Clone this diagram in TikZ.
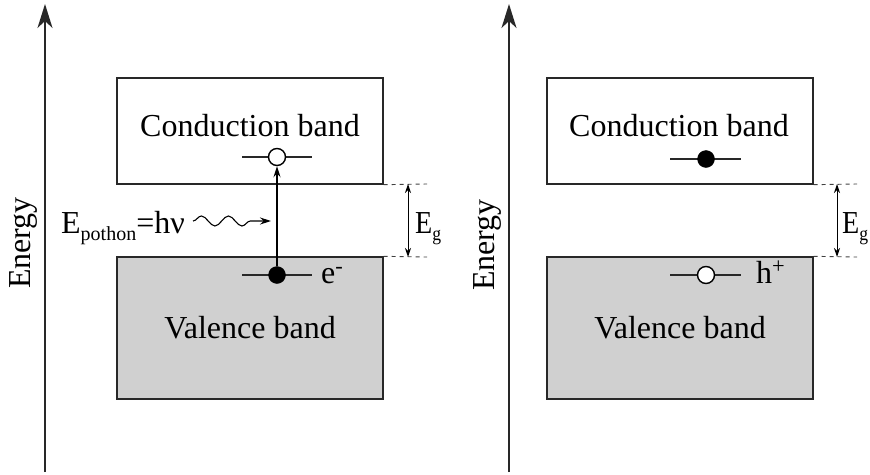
\documentclass[tikz,border=0pt]{standalone}
\usepackage{fontspec}
\setmainfont{Liberation Serif}
\usetikzlibrary{arrows.meta,decorations.pathmorphing}
\definecolor{bandgray}{RGB}{208,208,208}
\definecolor{linec}{RGB}{40,40,40}
\tikzset{
  band/.style={draw=linec, line width=1.4pt, inner sep=0pt, minimum width=266pt},
  cband/.style={band, fill=white, minimum height=106pt},
  vband/.style={band, fill=bandgray, minimum height=142pt},
  lbl/.style={inner sep=0pt, font=\fontsize{32}{38}\selectfont},
  level/.style={draw=linec, line width=1.5pt},
  hole/.style={circle, draw=black, line width=1.4pt, fill=white, inner sep=0pt, minimum size=17pt},
  elec/.style={circle, draw=black, fill=black, inner sep=0pt, minimum size=17pt},
  axis/.style={draw=linec, line width=1.5pt, -{Stealth[length=24pt,width=15pt,inset=7pt]}},
  gaparrow/.style={draw=black, line width=1pt, {Stealth[length=9pt,width=6pt]}-{Stealth[length=9pt,width=6pt]}},
  guide/.style={draw=black!75, line width=0.9pt, dash pattern=on 4pt off 4pt},
  trans/.style={draw=black, line width=1.5pt, -{Stealth[length=11pt,width=7pt]}},
  photon/.style={draw=black, line width=1.1pt, decorate,
    decoration={snake, amplitude=5pt, segment length=27pt, post length=9pt},
    -{Stealth[length=11pt,width=7pt]}},
}
\newcommand{\subsz}[1]{\raisebox{-0.22em}{\fontsize{20}{20}\selectfont #1}}
\begin{document}
\begin{tikzpicture}[x=1pt,y=-1pt]
\useasboundingbox (0,0) rectangle (870,474);

% ---------- left panel ----------
\coordinate (axLb) at (45,472);
\coordinate (axLt) at (45,4);
\draw[axis] (axLb) -- (axLt);
\node[lbl, rotate=90] (enL) at (23,243) {Energy};

\node[cband] (cbL) at (250,131) {};
\node[vband] (vbL) at (250,328) {};
\node[lbl, anchor=base] (cbLt) at (250,136) {Conduction band};
\node[lbl, anchor=base] (vbLt) at (250,338) {Valence band};

\coordinate (clLa) at (242,157);
\coordinate (clLb) at (312,157);
\draw[level] (clLa) -- (clLb);
\node[hole] (hL) at (277,157) {};

\coordinate (vlLa) at (242,275);
\coordinate (vlLb) at (312,275);
\draw[level] (vlLa) -- (vlLb);
\node[elec] (eL) at (277,275) {};
\node[lbl, anchor=base west] (emL) at (321,283) {e\textsuperscript{-}};

\draw[trans] (eL) -- (hL);

\coordinate (dLt) at (427,184);
\coordinate (dLb) at (427,257);
\draw[guide] (cbL.south east) -- (dLt);
\draw[guide] (vbL.north east) -- (dLb);
\coordinate (gLt) at (408,184);
\coordinate (gLb) at (408,257);
\draw[gaparrow] (gLt) -- (gLb);
\node[lbl, anchor=base west, xscale=0.88] (egL) at (415,233) {E\subsz{g}};

\node[lbl, anchor=base west] (ph) at (61,233) {E\subsz{pothon}=hν};
\coordinate (wS) at (193,221);
\coordinate (wE) at (271,221);
\draw[photon] (wS) -- (wE);

% ---------- right panel ----------
\coordinate (axRb) at (509,472);
\coordinate (axRt) at (509,4);
\draw[axis] (axRb) -- (axRt);
\node[lbl, rotate=90] (enR) at (487,245) {Energy};

\node[cband] (cbR) at (680,131) {};
\node[vband] (vbR) at (680,328) {};
\node[lbl, anchor=base] (cbRt) at (679,136) {Conduction band};
\node[lbl, anchor=base] (vbRt) at (680,338) {Valence band};

\coordinate (clRa) at (670,159);
\coordinate (clRb) at (741,159);
\draw[level] (clRa) -- (clRb);
\node[elec] (eR) at (706,159) {};

\coordinate (vlRa) at (670,275);
\coordinate (vlRb) at (741,275);
\draw[level] (vlRa) -- (vlRb);
\node[hole] (hR) at (706,275) {};
\node[lbl, anchor=base west] (hpR) at (756,283) {h\textsuperscript{+}};

\coordinate (dRt) at (857,184);
\coordinate (dRb) at (857,257);
\draw[guide] (cbR.south east) -- (dRt);
\draw[guide] (vbR.north east) -- (dRb);
\coordinate (gRt) at (837,184);
\coordinate (gRb) at (837,257);
\draw[gaparrow] (gRt) -- (gRb);
\node[lbl, anchor=base west, xscale=0.88] (egR) at (842,233) {E\subsz{g}};
\end{tikzpicture}
\end{document}
